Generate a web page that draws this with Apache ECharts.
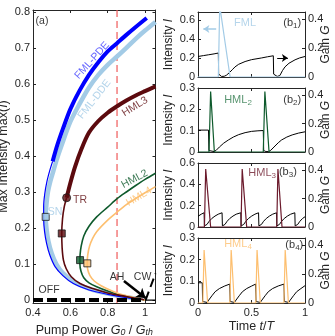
<!DOCTYPE html>
<html><head><meta charset="utf-8">
<script src="https://cdn.jsdelivr.net/npm/echarts@6/dist/echarts.min.js"></script>
<style>html,body{margin:0;padding:0;background:#fff}#c{width:335px;height:336px}</style>
</head><body><div id="c"></div>
<script>
// ---------- tick values ----------
const aXTicks = [0.4, 0.6, 0.8, 1];
const aYTicks = [0, 0.1, 0.2, 0.3, 0.4, 0.5, 0.6, 0.7, 0.8];
const tTicks = [0, 0.5, 1];
const gainTicks = [0, 0.2, 0.4];
const b1Ticks = [0, 0.2, 0.4, 0.6];
const b2Ticks = [0, 0.1, 0.2, 0.3];
const b3Ticks = [0, 0.2, 0.4, 0.6];
const b4Ticks = [0, 0.1, 0.2, 0.3];

// ---------- panel (a) data: [G0/Gth, max(I)] ----------
const pumpG = 0.85;
const pdeUpper = [[0.505,0.385],[0.53,0.43],[0.56,0.475],[0.6,0.53],[0.65,0.582],[0.7,0.625],[0.75,0.66],[0.8,0.69],[0.85,0.713],[0.9,0.736],[0.95,0.758],[1.009,0.783]];
const pdeLower = [[0.99,0.002],[0.9,0.007],[0.8,0.016],[0.7,0.028],[0.616,0.046],[0.56,0.068],[0.518,0.093],[0.49,0.125],[0.473,0.157],[0.462,0.19],[0.457,0.225],[0.457,0.26],[0.463,0.295],[0.475,0.33],[0.49,0.36],[0.505,0.385]];
const ddeCurve = [[0.97,0.003],[0.9,0.008],[0.8,0.018],[0.7,0.032],[0.62,0.05],[0.56,0.075],[0.525,0.1],[0.5,0.13],[0.482,0.165],[0.472,0.2],[0.468,0.231],[0.472,0.265],[0.48,0.3],[0.493,0.33],[0.51,0.36],[0.527,0.39],[0.55,0.425],[0.6,0.495],[0.65,0.545],[0.7,0.59],[0.75,0.625],[0.8,0.653],[0.85,0.676],[0.9,0.7],[0.95,0.725],[1.0,0.748],[1.056,0.772]];
const hml3Lower = [[0.995,0.001],[0.9,0.01],[0.8,0.02],[0.72,0.032],[0.652,0.046],[0.605,0.065],[0.578,0.087],[0.563,0.111],[0.556,0.145],[0.554,0.185],[0.558,0.225],[0.567,0.258],[0.58,0.284]];
const hml3Upper = [[0.58,0.284],[0.6,0.325],[0.625,0.37],[0.66,0.42],[0.7,0.465],[0.75,0.497],[0.8,0.52],[0.85,0.538],[0.9,0.554],[0.95,0.568],[1.0,0.58],[1.056,0.593]];
const hml2Curve = [[1.0,0.0],[0.97,0.003],[0.92,0.008],[0.86,0.015],[0.8,0.025],[0.741,0.037],[0.7,0.048],[0.672,0.062],[0.657,0.08],[0.651,0.1],[0.652,0.125],[0.658,0.15],[0.672,0.178],[0.7,0.205],[0.741,0.231],[0.8,0.258],[0.852,0.282],[0.9,0.3],[0.95,0.318],[1.0,0.335],[1.056,0.352]];
const hml4Curve = [[1.0,0.0],[0.955,0.006],[0.87,0.016],[0.812,0.028],[0.765,0.04],[0.728,0.053],[0.705,0.068],[0.693,0.085],[0.69,0.102],[0.693,0.125],[0.703,0.15],[0.72,0.172],[0.741,0.19],[0.8,0.222],[0.852,0.245],[0.9,0.265],[0.95,0.282],[1.0,0.298],[1.056,0.315]];
const offLine = [[0.4,0],[1.0,0]];
const zeroLine = [[1.0,0],[1.056,0]];
const cwLine = [[1.003,0],[1.056,0.074]];
const ahArrow = [[0.887,0.053],[1.003,0.006]];
const snPoint = [0.468,0.231];
const hml3Square = [0.554,0.185];
const hml2Square = [0.652,0.111];
const hml4Square = [0.691,0.102];
const trPoint = [0.58,0.284];

// ---------- panel (b) data: [t/T, value] ----------
const b1Intensity = [[0,0],[0.19,0],[0.203,0.75],[0.3,0],[1,0]];
const b1Gain = [[0,0.142],[0.05,0.148],[0.1,0.154],[0.15,0.16],[0.19,0.166],[0.193,0.02],[0.2,0.008],[0.22,0.004],[0.245,0.005],[0.265,0.012],[0.29,0.028],[0.32,0.05],[0.346,0.07],[0.38,0.088],[0.44,0.107],[0.5,0.12],[0.595,0.132],[0.65,0.14],[0.704,0.147],[0.707,0.02],[0.715,0.008],[0.74,0.004],[0.765,0.01],[0.79,0.045],[0.813,0.07],[0.85,0.095],[0.907,0.119],[0.95,0.132],[1,0.142]];
const b2Intensity = [[0,0],[0.103,0],[0.118,0.283],[0.153,0],[0.61,0],[0.625,0.283],[0.664,0],[1,0]];
const b2Gain = [[0,0.154],[0.098,0.154],[0.102,0.01],[0.12,0.003],[0.15,0.003],[0.17,0.012],[0.2,0.035],[0.24,0.062],[0.283,0.084],[0.33,0.105],[0.38,0.122],[0.44,0.136],[0.5,0.145],[0.56,0.149],[0.61,0.151],[0.614,0.01],[0.635,0.003],[0.66,0.003],[0.68,0.012],[0.71,0.035],[0.75,0.065],[0.78,0.084],[0.83,0.105],[0.88,0.12],[0.94,0.133],[1,0.142]];
const b3Intensity = [[0,0],[0.06,0],[0.072,0.543],[0.118,0],[0.402,0],[0.413,0.543],[0.455,0],[0.736,0],[0.747,0.543],[0.785,0],[1,0]];
const b3Gain = [[0,0.075],[0.03,0.09],[0.057,0.1],[0.06,0.008],[0.07,0.004],[0.084,0.018],[0.104,0.04],[0.129,0.06],[0.159,0.077],[0.189,0.09],[0.225,0.1],
 [0.228,0.008],[0.238,0.004],[0.252,0.018],[0.272,0.04],[0.297,0.06],[0.327,0.077],[0.357,0.09],[0.4,0.1],
 [0.403,0.008],[0.413,0.004],[0.427,0.018],[0.447,0.04],[0.472,0.06],[0.502,0.077],[0.532,0.09],[0.566,0.1],
 [0.569,0.008],[0.579,0.004],[0.593,0.018],[0.613,0.04],[0.638,0.06],[0.668,0.077],[0.698,0.09],[0.734,0.1],
 [0.737,0.008],[0.747,0.004],[0.761,0.018],[0.781,0.04],[0.806,0.06],[0.836,0.077],[0.866,0.09],[0.905,0.1],
 [0.908,0.008],[0.918,0.004],[0.932,0.018],[0.952,0.04],[0.977,0.06],[1,0.072]];
const b4Intensity = [[0,0],[0.045,0],[0.057,0.245],[0.09,0],[0.298,0],[0.31,0.245],[0.34,0],[0.54,0],[0.552,0.245],[0.582,0],[0.803,0],[0.815,0.245],[0.845,0],[1,0]];
const b4Gain = [[0,0.14],[0.04,0.14],[0.043,0.01],[0.06,0.003],[0.085,0.004],[0.1,0.02],[0.13,0.05],[0.16,0.078],[0.2,0.1],[0.25,0.118],[0.297,0.131],[0.3,0.01],[0.318,0.003],[0.34,0.004],[0.355,0.02],[0.385,0.05],[0.415,0.078],[0.455,0.1],[0.5,0.117],[0.539,0.131],[0.542,0.01],[0.56,0.003],[0.582,0.004],[0.597,0.02],[0.627,0.05],[0.657,0.078],[0.697,0.1],[0.75,0.118],[0.804,0.131],[0.807,0.01],[0.825,0.003],[0.847,0.004],[0.862,0.02],[0.892,0.05],[0.922,0.078],[0.962,0.1],[1,0.12]];
const fmlArrow = [[0.17,0.505],[0.05,0.505]];
const gainArrow = [[0.74,0.2],[0.84,0.2]];

// ---------- styles ----------
const F = '"Liberation Sans", Arial, Helvetica, sans-serif';
const TXT = '#262626', AX = '#262626';
const C = {pde:'#0000ff', pdeTxt:'#3c3cff', dde:'#a3cbe6', hml3:'#5c0a0e', hml3b:'#6b1a2c', hml2:'#0e5a2c', hml2t:'#2f7a4c', hml4:'#fdbf6f', red:'#f05a5a'};
const fmt = v => String(Math.round(v * 100) / 100);

function xAx(gi, min, max, ticks, pos, labels, name) {
  const a = {type:'value', gridIndex:gi, min, max, position:pos,
    axisLine:{show:true, onZero:false, lineStyle:{color:AX, width:1}},
    splitLine:{show:false},
    axisTick:{show:true, inside:true, length:3, customValues:ticks, lineStyle:{color:AX}},
    axisLabel:{show:labels, customValues:ticks, formatter:fmt, fontFamily:F, fontSize:11, color:TXT, margin:4}};
  if (name) Object.assign(a, name);
  return a;
}
function yAx(gi, min, max, ticks, pos, labels, name) {
  const a = {type:'value', gridIndex:gi, min, max, position:pos,
    axisLine:{show:true, onZero:false, lineStyle:{color:AX, width:1}},
    splitLine:{show:false},
    axisTick:{show:true, inside:true, length:3, customValues:ticks, lineStyle:{color:AX}},
    axisLabel:{show:labels, customValues:ticks, formatter:fmt, fontFamily:F, fontSize:11, color:TXT, margin:3}};
  if (name) Object.assign(a, name);
  return a;
}
const richBase = (size) => ({
  n:{fontFamily:F, fontSize:size, color:TXT},
  i:{fontFamily:F, fontSize:size, color:TXT, fontStyle:'italic'},
  s:{fontFamily:F, fontSize:size*0.7, color:TXT, fontStyle:'italic', lineHeight:6, verticalAlign:'bottom'}
});
const nm = (text, gap, rot, size) => ({name:text, nameLocation:'middle', nameGap:gap, nameRotate:rot,
  nameTextStyle:{fontFamily:F, fontSize:size, color:TXT, lineHeight:size+2, rich:richBase(size)}});

const xAxis = [
  xAx(0, 0.4, 1.056, aXTicks, 'bottom', true, nm('{n|Pump Power }{i|G}{s|0}{n| / }{i|G}{s|th}', 16, 0, 12.5)),
  xAx(0, 0.4, 1.056, aXTicks, 'top', false),
  xAx(1, 0, 1, tTicks, 'bottom', false), xAx(1, 0, 1, tTicks, 'top', false),
  xAx(2, 0, 1, tTicks, 'bottom', false), xAx(2, 0, 1, tTicks, 'top', false),
  xAx(3, 0, 1, tTicks, 'bottom', false), xAx(3, 0, 1, tTicks, 'top', false),
  xAx(4, 0, 1, tTicks, 'bottom', true, nm('{n|Time }{i|t}{n|/}{i|T}', 13, 0, 12.5)), xAx(4, 0, 1, tTicks, 'top', false)
];
const intName = () => nm('{n|Intensity }{i|I}', 16, 90, 12);
const gainName = () => Object.assign(nm('{n|Gain }{i|G}', 14, 90, 12), {nameMoveOverlap:false});
const yAxis = [
  yAx(0, -0.008, 0.805, aYTicks, 'left', true, nm('{n|Max Intensity max(}{i|I}{n|)}', 17, 90, 12.5)),
  yAx(0, -0.008, 0.805, aYTicks, 'right', false),
  yAx(1, 0, 0.684, b1Ticks, 'left', true, intName()), yAx(1, 0, 0.45, gainTicks, 'right', true, gainName()),
  yAx(2, 0, 0.3, b2Ticks, 'left', true, intName()), yAx(2, 0, 0.45, gainTicks, 'right', true, gainName()),
  yAx(3, 0, 0.6, b3Ticks, 'left', true, intName()), yAx(3, 0, 0.45, gainTicks, 'right', true, gainName()),
  yAx(4, 0, 0.3, b4Ticks, 'left', true, intName()), yAx(4, 0, 0.45, gainTicks, 'right', true, gainName())
];

function ln(data, color, width, xi, yi, extra) {
  return Object.assign({type:'line', data, xAxisIndex:xi, yAxisIndex:yi, showSymbol:false, symbol:'none',
    lineStyle:{color, width}, itemStyle:{color}, silent:true, animation:false, z:2}, extra || {});
}
function mk(pt, color, sym, size) {
  return {type:'scatter', xAxisIndex:0, yAxisIndex:0, data:[pt], symbol:sym, symbolSize:size,
    itemStyle:{color, borderColor:'#1a1a1a', borderWidth:1}, silent:true, animation:false, z:5};
}
function notes(xi, yi, items) {
  return {type:'scatter', xAxisIndex:xi, yAxisIndex:yi, symbolSize:1, itemStyle:{color:'transparent'},
    silent:true, animation:false, z:6,
    data: items.map(d => ({value:[d[1], d[2]], label:{show:true, position:'inside', formatter:d[0],
      rotate:d[4] || 0, fontFamily:F, fontSize:10.5, color:d[3], align:'center', verticalAlign:'middle',
      rich:{m:{fontFamily:F, fontSize:11, color:d[3], lineHeight:14},
            s:{fontFamily:F, fontSize:8, color:d[3], lineHeight:6, verticalAlign:'bottom'}}}}))};
}
function arrow(xi, yi, coords, color, width, size) {
  return {type:'lines', coordinateSystem:'cartesian2d', xAxisIndex:xi, yAxisIndex:yi,
    symbol:['none','arrow'], symbolSize:size, silent:true, animation:false, z:4,
    lineStyle:{color, width, opacity:1, curveness:0}, data:[{coords}]};
}

const series = [
  ln([[pumpG,-0.008],[pumpG,0.805]], C.red, 1.2, 0, 0, {lineStyle:{color:C.red, width:1.2, type:[7,4]}, z:1}),
  ln(ddeCurve, C.dde, 4.5, 0, 0, {smooth:0.3}),
  ln(pdeLower, C.pde, 1.2, 0, 0, {smooth:0.3}),
  ln(pdeUpper, C.pde, 4, 0, 0, {smooth:0.3}),
  ln(hml2Curve, C.hml2, 1.6, 0, 0, {smooth:0.3}),
  ln(hml4Curve, C.hml4, 1.6, 0, 0, {smooth:0.3}),
  ln(hml3Lower, C.hml3, 1.6, 0, 0, {smooth:0.3}),
  ln(hml3Upper, C.hml3, 4, 0, 0, {smooth:0.3}),
  ln(offLine, '#000', 4, 0, 0, {lineStyle:{color:'#000', width:4, type:[10,4]}, z:3}),
  ln(zeroLine, '#000', 1.2, 0, 0),
  ln(cwLine, '#000', 2, 0, 0, {lineStyle:{color:'#000', width:2, type:[9,5]}}),
  arrow(0, 0, ahArrow, '#000', 2.5, [0, 9]),
  mk(snPoint, C.dde, 'rect', 7),
  mk(hml3Square, C.hml3, 'rect', 7),
  mk(hml2Square, C.hml2, 'rect', 7),
  mk(hml4Square, C.hml4, 'rect', 7),
  mk(trPoint, C.hml3, 'circle', 8),
  notes(0, 0, [
    ['(a)', 0.448, 0.775, '#000'],
    ['FML-PDE', 0.716, 0.665, C.pdeTxt, 48],
    ['FML-DDE', 0.729, 0.557, C.dde, 52],
    ['HML3', 0.946, 0.537, C.hml3, 32],
    ['HML2', 0.944, 0.336, C.hml2, 28],
    ['HML4', 0.968, 0.287, C.hml4, 30],
    ['TR', 0.652, 0.278, C.hml3],
    ['SN', 0.518, 0.243, C.dde],
    ['OFF', 0.486, 0.028, '#000'],
    ['AH', 0.85, 0.065, '#000'],
    ['CW', 0.987, 0.065, '#000']
  ]),
  // (b1)
  ln(b1Gain, '#000', 1, 2, 3),
  ln(b1Intensity, C.dde, 1.2, 2, 2),
  arrow(2, 2, fmlArrow, C.dde, 1.5, [0, 6]),
  arrow(2, 2, gainArrow, '#000', 1.2, [0, 6]),
  notes(2, 2, [['{m|FML}', 0.44, 0.568, C.dde], ['{m|(b}{s|1}{m|)}', 0.88, 0.568, '#000']]),
  // (b2)
  ln(b2Gain, '#000', 1, 4, 5),
  ln(b2Intensity, C.hml2, 1.2, 4, 4),
  notes(4, 4, [['{m|HML}{s|2}', 0.374, 0.244, C.hml2t], ['{m|(b}{s|2}{m|)}', 0.88, 0.244, '#000']]),
  // (b3)
  ln(b3Gain, '#000', 1, 6, 7),
  ln(b3Intensity, C.hml3b, 1.2, 6, 6),
  notes(6, 6, [['{m|HML}{s|3}', 0.6, 0.506, C.hml3b], ['{m|(b}{s|3}{m|)}', 0.84, 0.515, '#000']]),
  // (b4)
  ln(b4Gain, '#000', 1, 8, 9),
  ln(b4Intensity, C.hml4, 1.2, 8, 8),
  notes(8, 8, [['{m|HML}{s|4}', 0.374, 0.272, C.hml4], ['{m|(b}{s|4}{m|)}', 0.9, 0.268, '#000']])
];

const grid = [
  {left:33, top:10, width:122.5, height:293},
  {left:198, top:12, width:107, height:65},
  {left:198, top:88, width:107, height:64},
  {left:198, top:163, width:107, height:64},
  {left:198, top:238, width:107, height:65}
].map(g => Object.assign(g, {containLabel:false, outerBoundsMode:'none'}));

const chart = echarts.init(document.getElementById('c'), null, {renderer:'canvas'});
chart.setOption({animation:false, backgroundColor:'#fff', grid, xAxis, yAxis, series});
</script></body></html>
